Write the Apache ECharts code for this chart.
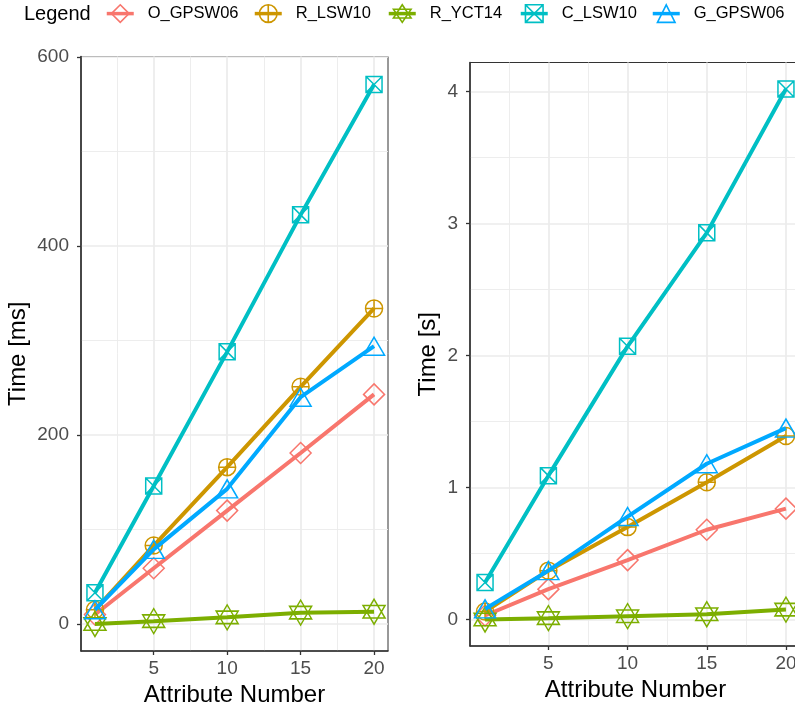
<!DOCTYPE html>
<html><head><meta charset="utf-8">
<script src="https://cdn.jsdelivr.net/npm/echarts@6/dist/echarts.min.js"></script>
<style>html,body{margin:0;padding:0;background:#fff}#c{width:795px;height:710px}</style>
</head><body><div id="c"></div>
<script>
// ---- data ----
const seriesNames = ['O_GPSW06', 'R_LSW10', 'R_YCT14', 'C_LSW10', 'G_GPSW06'];
const attributeNumbers = [1, 5, 10, 15, 20];
// left panel: Time [ms]
const msO_GPSW06 = [10, 59, 120, 181, 243];
const msR_LSW10  = [15, 83, 166, 251, 334];
const msR_YCT14  = [0, 3, 7, 12, 13];
const msC_LSW10  = [33, 146, 288, 433, 571];
const msG_GPSW06 = [15, 79, 143, 240, 294];
// right panel: Time [s]
const sO_GPSW06 = [0.03, 0.23, 0.45, 0.68, 0.84];
const sR_LSW10  = [0.06, 0.37, 0.70, 1.04, 1.39];
const sR_YCT14  = [0, 0.01, 0.025, 0.04, 0.075];
const sC_LSW10  = [0.28, 1.09, 2.07, 2.93, 4.02];
const sG_GPSW06 = [0.08, 0.37, 0.78, 1.18, 1.45];
// ticks
const xTicks = [5, 10, 15, 20];
const xMinorTicks = [2.5, 7.5, 12.5, 17.5];
const msTicks = [0, 200, 400, 600];
const msMinorTicks = [100, 300, 500];
const sTicks = [0, 1, 2, 3, 4];
const sMinorTicks = [0.5, 1.5, 2.5, 3.5];

// ---- styles ----
const colors = ['#F8766D', '#CD9600', '#7CAE00', '#00BFC4', '#00A9FF'];
const symbols = [
  'path://M5,0 L10,5 L5,10 L0,5 Z',
  'path://M0,5 A5,5 0 1,1 10,5 A5,5 0 1,1 0,5 Z M5,0 L5,10 M0,5 L10,5',
  'path://M5,0 L10,8.66 L0,8.66 Z M0,2.887 L10,2.887 L5,11.547 Z',
  'path://M0,0 L10,0 L10,10 L0,10 Z M0,0 L10,10 M10,0 L0,10',
  'path://M5,0 L10,8.66 L0,8.66 Z'
];
const symbolSizes = [[21, 21], [17, 17], [22, 25], [16, 16], [21, 18]];
const FONT = 'Liberation Sans, Arial, Helvetica, sans-serif';
const GRID_COLOR = '#EBEBEB';

const msData = [msO_GPSW06, msR_LSW10, msR_YCT14, msC_LSW10, msG_GPSW06];
const sData = [sO_GPSW06, sR_LSW10, sR_YCT14, sC_LSW10, sG_GPSW06];

function pairs(ys) { return attributeNumbers.map((x, i) => [x, ys[i]]); }

function mainX(grid) {
  return {
    type: 'value', gridIndex: grid, min: 0.05, max: 20.95, position: 'bottom',
    name: 'Attribute Number', nameLocation: 'middle', nameGap: 32,
    nameTextStyle: { fontSize: 24, color: '#000', fontFamily: FONT },
    axisLine: { show: true, onZero: false, lineStyle: { color: '#333', width: 1.6 } },
    axisTick: { show: true, customValues: xTicks, length: 4, lineStyle: { color: '#333', width: 1.3 } },
    axisLabel: { show: true, customValues: xTicks, fontSize: 19, color: '#4D4D4D', margin: 8, fontFamily: FONT },
    splitLine: { show: true, lineStyle: { color: GRID_COLOR, width: 1.7 } }
  };
}
function minorX(grid) {
  return {
    type: 'value', gridIndex: grid, min: 0.05, max: 20.95, position: 'top',
    axisLine: { show: false, onZero: false },
    axisTick: { show: false, customValues: xMinorTicks },
    axisLabel: { show: false },
    splitLine: { show: true, lineStyle: { color: GRID_COLOR, width: 0.9 } }
  };
}
function mainY(grid, min, max, ticks, name, gap) {
  return {
    type: 'value', gridIndex: grid, min: min, max: max, position: 'left',
    name: name, nameLocation: 'middle', nameGap: gap,
    nameTextStyle: { fontSize: 24, color: '#000', fontFamily: FONT },
    axisLine: { show: true, onZero: false, lineStyle: { color: '#333', width: 1.6 } },
    axisTick: { show: true, customValues: ticks, length: 4, lineStyle: { color: '#333', width: 1.3 } },
    axisLabel: { show: true, customValues: ticks, fontSize: 19, color: '#4D4D4D', margin: 12, fontFamily: FONT },
    splitLine: { show: true, lineStyle: { color: GRID_COLOR, width: 1.7 } }
  };
}
function minorY(grid, min, max, ticks) {
  return {
    type: 'value', gridIndex: grid, min: min, max: max, position: 'right',
    axisLine: { show: false, onZero: false },
    axisTick: { show: false, customValues: ticks },
    axisLabel: { show: false },
    splitLine: { show: true, lineStyle: { color: GRID_COLOR, width: 0.9 } }
  };
}

const series = [];
[msData, sData].forEach((panel, p) => {
  panel.forEach((ys, i) => {
    series.push({
      type: 'line', name: seriesNames[i],
      xAxisIndex: p * 2, yAxisIndex: p * 2,
      data: pairs(ys),
      color: colors[i],
      symbol: symbols[i], symbolSize: symbolSizes[i],
      showSymbol: true,
      lineStyle: { color: colors[i], width: 4 },
      itemStyle: { color: 'rgba(255,255,255,0)', borderColor: colors[i], borderWidth: 1.5 },
      emphasis: { disabled: true },
      z: 2 + i * 0.01
    });
  });
});

const legendLefts = [105, 253, 387, 519, 651];
const legends = seriesNames.map((n, i) => ({
  data: [n], left: legendLefts[i], top: 4, padding: 0, orient: 'horizontal',
  itemWidth: 27, itemHeight: 22, selectedMode: false,
  lineStyle: { width: 3.5 },
  itemStyle: { borderWidth: 1.6 },
  textStyle: { fontSize: 16.5, color: '#000', fontFamily: FONT, padding: [0, 0, 0, 9] }
}));

const chart = echarts.init(document.getElementById('c'), null, { renderer: 'canvas' });
chart.setOption({
  animation: false,
  backgroundColor: '#fff',
  textStyle: { fontFamily: FONT },
  grid: [
    { left: 81, right: 407, top: 56.5, bottom: 59, show: true, borderColor: '#333', borderWidth: 1, backgroundColor: '#fff', containLabel: false, outerBoundsMode: 'none' },
    { left: 470, right: -6, top: 62.5, bottom: 64, show: true, borderColor: '#333', borderWidth: 1, backgroundColor: '#fff', containLabel: false, outerBoundsMode: 'none' }
  ],
  xAxis: [mainX(0), minorX(0), mainX(1), minorX(1)],
  yAxis: [
    mainY(0, -28.6, 600.6, msTicks, 'Time [ms]', 51), minorY(0, -28.6, 600.6, msMinorTicks),
    mainY(1, -0.201, 4.221, sTicks, 'Time [s]', 30), minorY(1, -0.201, 4.221, sMinorTicks)
  ],
  legend: legends,
  graphic: [{
    type: 'text', left: 24, top: 4,
    style: { text: 'Legend', font: '20px ' + FONT, fill: '#000' }
  }],
  series: series
});
</script></body></html>
